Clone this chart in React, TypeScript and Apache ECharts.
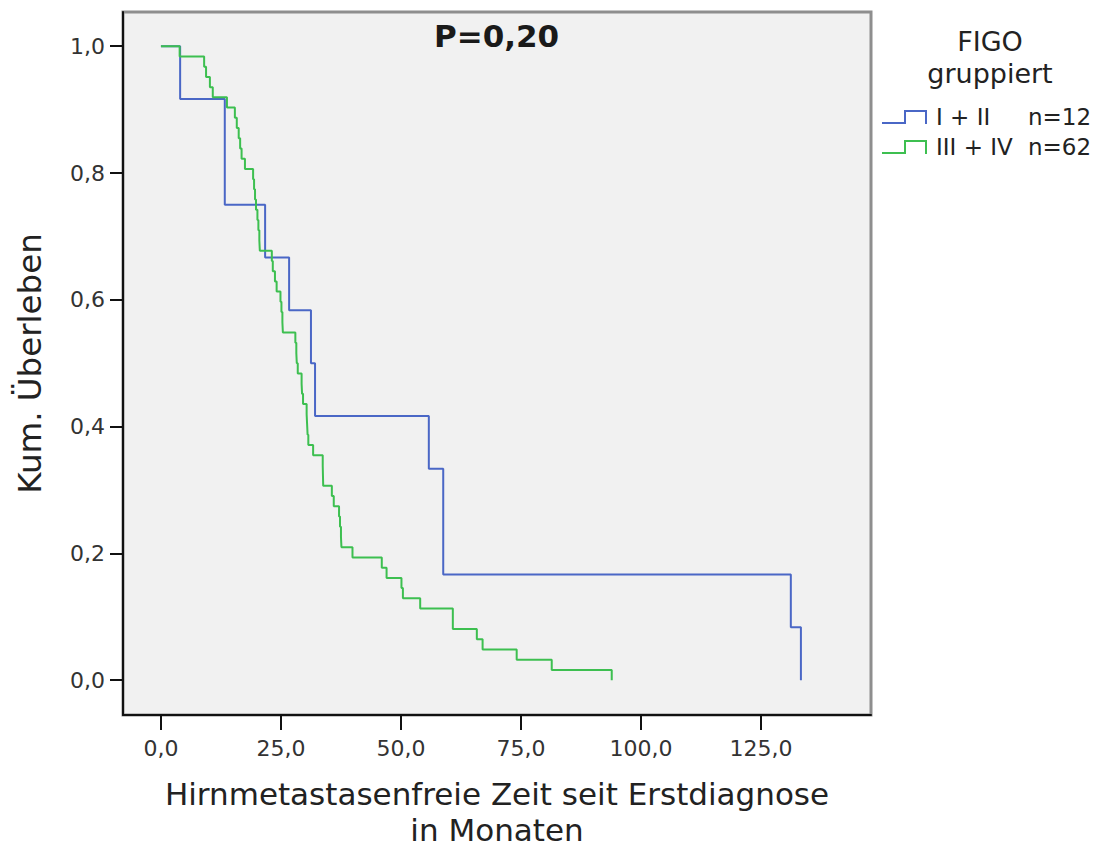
import React, { useEffect, useRef } from "react";
import * as echarts from "echarts";

// Event times (months) for each group
const groupNames = ["I + II", "III + IV"];
const groupN = [12, 62];
const blueTimes = [4.0, 13.3, 13.3, 21.7, 26.7, 31.25, 32.1, 55.8, 58.8, 58.8, 131.2, 133.3];
const greenTimes = [
  3.9, 9.0, 9.4, 10.2, 10.8, 13.75, 15.4, 15.8, 16.2, 16.5,
  16.8, 17.5, 19.2, 19.4, 19.6, 19.8, 20.1, 20.3, 20.5, 20.6,
  23.1, 23.3, 23.75, 24.1, 24.9, 25.1, 25.3, 25.4, 28.0, 28.2,
  28.3, 28.5, 29.3, 29.4, 29.6, 30.35, 30.45, 30.55, 30.7, 31.7,
  33.7, 33.75, 33.8, 35.6, 36.0, 37.1, 37.3, 37.5, 37.6, 39.9,
  46.0, 47.0, 50.1, 50.4, 54.0, 60.8, 60.8, 65.8, 67.0, 74.1,
  81.4, 93.9,
];
const xTicks = [0, 25, 50, 75, 100, 125];
const yTicks = [0, 0.2, 0.4, 0.6, 0.8, 1.0];
const colors = ["#4a67c6", "#3dbf50"];

function kmPoints(times: number[], n: number): number[][] {
  const pts: number[][] = [[0, 1]];
  let dead = 0;
  const uniq = Array.from(new Set(times)).sort((a, b) => a - b);
  for (const t of uniq) {
    dead += times.filter((v) => v === t).length;
    pts.push([t, 1 - dead / n]);
  }
  return pts;
}

const fmt = (v: number) => v.toFixed(1).replace(".", ",");
const FONT = "DejaVu Sans";

export default function App() {
  const ref = useRef<HTMLDivElement>(null);
  useEffect(() => {
    if (!ref.current) return;
    const chart = echarts.init(ref.current, undefined, { renderer: "svg" });
    const series = [blueTimes, greenTimes].map((times, i) => ({
      name: groupNames[i],
      type: "line",
      step: "end",
      symbol: "none",
      data: kmPoints(times, groupN[i]),
      lineStyle: { color: colors[i], width: 2 },
      itemStyle: { color: colors[i] },
    }));
    chart.setOption({
      animation: false,
      backgroundColor: "#ffffff",
      textStyle: { fontFamily: FONT },
      title: [
        {
          text: "P=0,20",
          left: 429,
          top: 15,
          textStyle: { fontFamily: FONT, fontSize: 31, fontWeight: "bold", color: "#1a1a1a", lineHeight: 32 },
        },
        {
          text: "FIGO\ngruppiert",
          left: 985,
          top: 20,
          textAlign: "center",
          textStyle: { fontFamily: FONT, fontSize: 27, fontWeight: "normal", color: "#222", lineHeight: 32 },
        },
      ],
      legend: {
        orient: "vertical",
        left: 877,
        top: 100,
        itemWidth: 45,
        itemHeight: 14,
        itemGap: 6,
        icon: "path://M0,12L22,12L22,0L45,0L45,14L43,14L43,2L24,2L24,14L0,14Z",
        itemStyle: { borderWidth: 0 },
        data: groupNames,
        formatter: (name: string) => {
          const i = groupNames.indexOf(name);
          return `{a|${name}}{b|n=${groupN[i]}}`;
        },
        textStyle: {
          fontFamily: FONT,
          fontSize: 23,
          color: "#222",
          lineHeight: 24,
          rich: {
            a: { fontFamily: FONT, fontSize: 23, color: "#222", width: 92, padding: [0, 0, 0, 4] },
            b: { fontFamily: FONT, fontSize: 23, color: "#222" },
          },
        },
      },
      grid: {
        left: 123,
        top: 12,
        right: 224,
        bottom: 135,
        outerBoundsMode: "none",
        containLabel: false,
        show: true,
        backgroundColor: "#f1f1f1",
        borderColor: "#8e8e8e",
        borderWidth: 3,
      },
      xAxis: {
        type: "value",
        min: -7.9,
        max: 147.9,
        name: "Hirnmetastasenfreie Zeit seit Erstdiagnose\nin Monaten",
        nameLocation: "middle",
        nameGap: 61,
        nameTextStyle: { fontFamily: FONT, fontSize: 31, color: "#222", lineHeight: 36 },
        axisLine: { show: true, onZero: false, lineStyle: { color: "#111", width: 2 } },
        axisTick: { show: true, length: 15, customValues: xTicks, lineStyle: { color: "#111", width: 2 } },
        axisLabel: {
          customValues: xTicks,
          formatter: (v: number) => fmt(v),
          margin: 22,
          fontFamily: FONT,
          fontSize: 22,
          color: "#333",
        },
        splitLine: { show: false },
      },
      yAxis: {
        type: "value",
        min: -0.055,
        max: 1.054,
        name: "Kum. Überleben",
        nameLocation: "middle",
        nameGap: 77,
        nameTextStyle: { fontFamily: FONT, fontSize: 32.5, color: "#222" },
        axisLine: { show: true, onZero: false, lineStyle: { color: "#111", width: 2 } },
        axisTick: { show: true, length: 13, customValues: yTicks, lineStyle: { color: "#111", width: 2 } },
        axisLabel: {
          customValues: yTicks,
          formatter: (v: number) => fmt(v),
          margin: 18,
          fontFamily: FONT,
          fontSize: 22,
          color: "#333",
        },
        splitLine: { show: false },
      },
      series,
    });
    return () => chart.dispose();
  }, []);
  return (
    <div
      ref={ref}
      style={{ position: "fixed", left: 0, top: 0, width: 1095, height: 850 }}
    />
  );
}
